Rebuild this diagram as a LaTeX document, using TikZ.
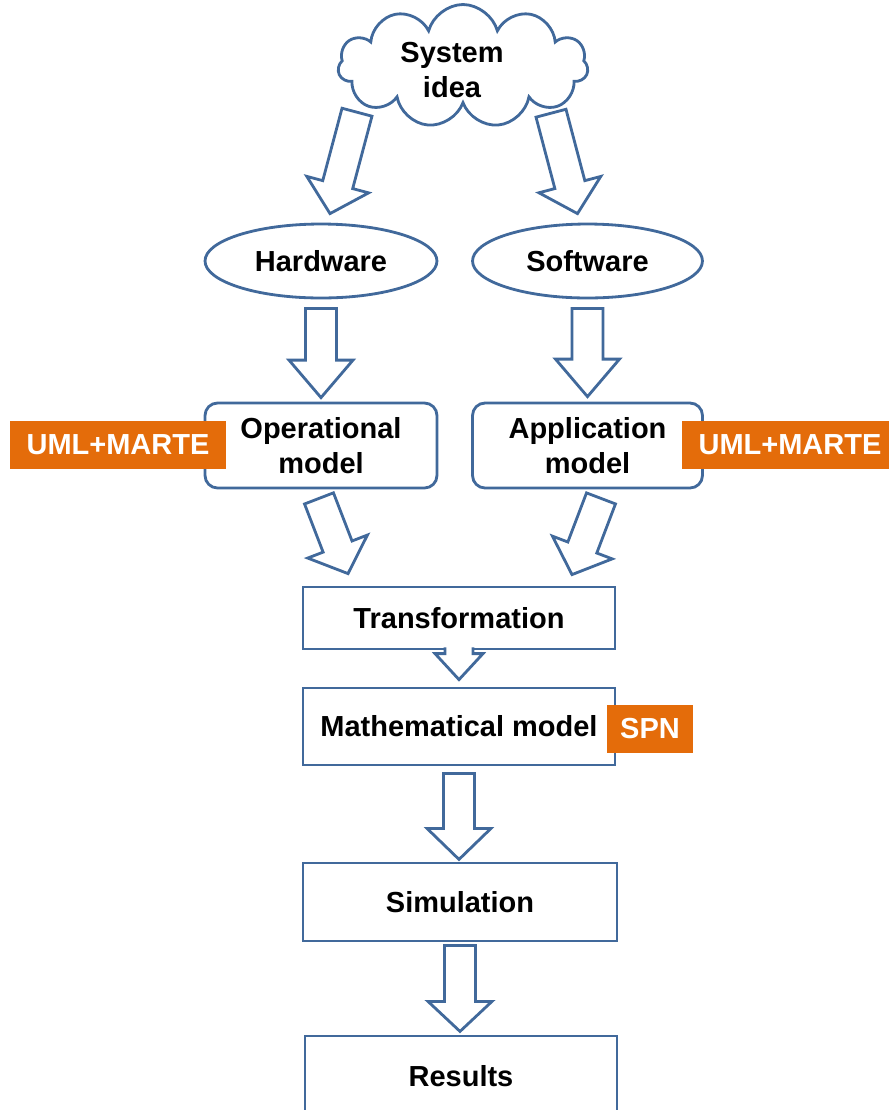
\documentclass[tikz,border=0pt]{standalone}
\usepackage{fontspec}
\setmainfont{Liberation Sans}
\usetikzlibrary{calc, shapes.geometric, shapes.symbols}

\definecolor{flowblue}{RGB}{65,105,155}
\definecolor{tagorange}{RGB}{228,108,10}

\tikzset{
  stage/.style={draw=flowblue, line width=1.6pt, fill=white, inner sep=0pt, align=center,
                font=\fontsize{16.5}{20}\selectfont\bfseries},
  stagebox/.style={stage, rectangle},
  roundbox/.style={stage, rectangle, rounded corners=0.25cm},
  oval/.style={stage, ellipse},
  tag/.style={rectangle, fill=tagorange, text=white, inner sep=0pt, minimum height=0.96cm,
              font=\fontsize{16.5}{20}\selectfont\bfseries},
  fat/.style={draw=flowblue, line width=1.6pt, fill=white, line join=miter},
}

% block arrow: [closing] {head length} {tail} {tip}
\def\faShaft{0.31cm}
\def\faHead{0.64cm}
\newcommand{\fatarrow}[4][-- cycle]{%
  \coordinate (fa-t) at (#3);
  \coordinate (fa-p) at (#4);
  \coordinate (fa-h) at ($(fa-p)!#2!(fa-t)$);
  \draw[fat] ($(fa-t)!\faShaft!90:(fa-p)$) -- ($(fa-h)!\faShaft!90:(fa-p)$)
    -- ($(fa-h)!\faHead!90:(fa-p)$) -- (fa-p) -- ($(fa-h)!\faHead!-90:(fa-p)$)
    -- ($(fa-h)!\faShaft!-90:(fa-p)$) -- ($(fa-t)!\faShaft!-90:(fa-p)$) #1;
}

\begin{document}
\begin{tikzpicture}[x=0.02cm, y=-0.02cm]
\useasboundingbox (0,0) rectangle (889,1110);
\clip (0,0) rectangle (889,1110);

\node [cloud, cloud puffs=11, cloud ignores aspect, draw=flowblue, line width=1.6pt,
       minimum width=5cm, minimum height=2.46cm] (idea) at (463,66) {};
\node [font=\fontsize{16.5}{20}\selectfont\bfseries, align=center] (idealbl) at (452,70) {System\\idea};

\node [oval, minimum width=4.64cm, minimum height=1.48cm] (hw) at (321,261)   {Hardware};
\node [oval, minimum width=4.6cm,  minimum height=1.48cm] (sw) at (587.5,261) {Software};

\node [roundbox, minimum width=4.64cm, minimum height=1.7cm] (op)  at (321,445.5)   {Operational\\model};
\node [roundbox, minimum width=4.6cm,  minimum height=1.7cm] (app) at (587.5,445.5) {Application\\model};

\node [stagebox, minimum width=6.24cm, minimum height=1.24cm] (tr)  at (459,618)   {Transformation};
\node [stagebox, minimum width=6.24cm, minimum height=1.54cm] (mm)  at (459,726.5) {Mathematical model};
\node [stagebox, minimum width=6.28cm, minimum height=1.56cm] (sim) at (460,902)   {Simulation};
\node [stagebox, minimum width=6.24cm, minimum height=1.6cm]  (res) at (461,1076)  {Results};

\fatarrow{0.6cm}{$(idea.south)+(-106,6)$}{$(hw.north)+(9,-9)$}
\fatarrow{0.6cm}{$(idea.south)+(88,7)$}{$(sw.north)+(-10,-9)$}
\fatarrow{0.75cm}{$(hw.south)+(0,9)$}{$(op.north)+(0,-4)$}
\fatarrow{0.75cm}{$(sw.south)+(0,9)$}{$(app.north)+(0,-5)$}
\fatarrow{0.58cm}{$(op.south)+(-2,9)$}{$(tr.north)+(-111,-12)$}
\fatarrow{0.58cm}{$(app.south)+(13.5,9)$}{$(tr.north)+(113,-11)$}
{\def\faShaft{0.28cm}\def\faHead{0.48cm}
 \fatarrow[]{0.52cm}{$(tr.south)+(0,-3)$}{$(mm.north)+(0,-7)$}}
\fatarrow{0.62cm}{$(mm.south)+(0,7)$}{$(mm.south)+(0,93)$}
\fatarrow{0.6cm}{$(sim.south)+(0,3)$}{$(sim.south)+(0,89)$}

\node [tag, minimum width=4.32cm] (umlop)  at (118,445) {UML+MARTE};
\node [tag, minimum width=4.32cm] (umlapp) at (790,445) {UML+MARTE};
\node [tag, minimum width=1.72cm] (spn)    at (650,729) {SPN};

\end{tikzpicture}
\end{document}
